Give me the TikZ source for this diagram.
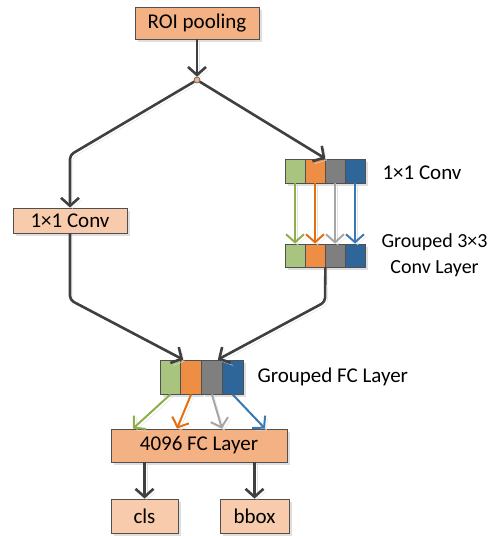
\documentclass[tikz,border=0pt]{standalone}
\usepackage{fontspec}
\setmainfont{Carlito}
\usetikzlibrary{arrows.meta,shadows,calc}
\definecolor{peach}{HTML}{F4B183}
\definecolor{lpeach}{HTML}{F8CBAD}
\definecolor{edge}{HTML}{505050}
\definecolor{lineD}{HTML}{404040}
\definecolor{cG}{HTML}{A9C47F}
\definecolor{cO}{HTML}{EE8E45}
\definecolor{cY}{HTML}{7F7F7F}
\definecolor{cB}{HTML}{2F6699}
\definecolor{aG}{HTML}{8DB04A}
\definecolor{aO}{HTML}{E3700F}
\definecolor{aY}{HTML}{A6A6A6}
\definecolor{aB}{HTML}{3A78B4}
\begin{document}
\begin{tikzpicture}[x=1pt,y=-1pt,
  txt/.style={font=\fontsize{21pt}{26pt}\selectfont, text=black},
  box/.style={txt, draw=edge, line width=0.8pt, inner sep=0pt,
    drop shadow={shadow xshift=3pt, shadow yshift=-3pt, fill=black!25, opacity=0.5}},
  cell/.style={draw=edge, line width=0.8pt, inner sep=0pt, minimum width=20pt,
    drop shadow={shadow xshift=3pt, shadow yshift=-3pt, fill=black!25, opacity=0.5}},
  lsh/.style={preaction={draw=black!12, transform canvas={xshift=2.5pt,yshift=-2.5pt}}},
  conn/.style={lsh, draw=lineD, line width=2.6pt, -{Straight Barb[length=8pt,width=18pt]}},
  carr/.style={lsh, line width=2pt, -{Straight Barb[length=8pt,width=18pt]}}
]
\useasboundingbox (0,0) rectangle (491,536);

% boxes
\node[box, fill=peach, minimum width=124pt, minimum height=32pt] (roi) at (197,23) {ROI pooling};
\node[circle, draw=edge, line width=0.6pt, fill=peach, minimum size=6pt, inner sep=0pt] (dot) at (197,80) {};
\node[box, fill=lpeach, minimum width=114pt, minimum height=25pt] (convL) at (70,220.5) {1×1 Conv};

\node[cell, fill=cG, minimum height=24pt] (a1) at (295,171) {};
\node[cell, fill=cO, minimum height=24pt] (a2) at (315,171) {};
\node[cell, fill=cY, minimum height=24pt] (a3) at (335,171) {};
\node[cell, fill=cB, minimum height=24pt] (a4) at (355,171) {};

\node[cell, fill=cG, minimum height=23pt] (b1) at (295,255.5) {};
\node[cell, fill=cO, minimum height=23pt] (b2) at (315,255.5) {};
\node[cell, fill=cY, minimum height=23pt] (b3) at (335,255.5) {};
\node[cell, fill=cB, minimum height=23pt] (b4) at (355,255.5) {};

\node[cell, fill=cG, minimum width=20.75pt, minimum height=34pt] (f1) at (170.4,377) {};
\node[cell, fill=cO, minimum width=20.75pt, minimum height=34pt] (f2) at (191.1,377) {};
\node[cell, fill=cY, minimum width=20.75pt, minimum height=34pt] (f3) at (211.9,377) {};
\node[cell, fill=cB, minimum width=20.75pt, minimum height=34pt] (f4) at (232.6,377) {};

\node[box, fill=peach, minimum width=176pt, minimum height=33pt] (fc) at (199,445.5) {4096 FC Layer};
\node[box, fill=lpeach, minimum width=67pt, minimum height=34pt] (cls) at (144.5,516) {cls};
\node[box, fill=lpeach, minimum width=69pt, minimum height=34pt] (bbox) at (254.5,516) {bbox};

% labels
\node[txt, anchor=west] (lA) at (379,173) {1×1 Conv};
\node[txt, font=\fontsize{20pt}{26pt}\selectfont, anchor=west, align=center] (lB) at (378,255) {Grouped 3×3\\Conv Layer};
\node[txt, anchor=west] (lC) at (254,377) {Grouped FC Layer};

% connectors
\coordinate (kL1) at (70,155);
\coordinate (kL2) at (70,300);
\coordinate (kR) at (325,302);
\draw[conn] (roi.south) -- (dot.north);
\draw[conn, rounded corners=4pt] (dot) -- (kL1) -- (convL.north);
\draw[conn] (dot) -- (a2.north east);
\draw[conn, rounded corners=4pt] (convL.south) -- (kL2) -- ([xshift=2pt]f1.north east);
\draw[conn, rounded corners=4pt] (b2.south east) -- (kR) -- ([xshift=-4pt]f4.north west);

\draw[carr, draw=aG] (a1.south) -- (b1.north);
\draw[carr, draw=aO] (a2.south) -- (b2.north);
\draw[carr, draw=aY] (a3.south) -- (b3.north);
\draw[carr, draw=aB] (a4.south) -- (b4.north);

\draw[carr, draw=aG] (f1.south) -- ([xshift=-66pt]fc.north);
\draw[carr, draw=aO] (f2.south) -- ([xshift=-22pt]fc.north);
\draw[carr, draw=aY] (f3.south) -- ([xshift=23pt]fc.north);
\draw[carr, draw=aB] (f4.south) -- ([xshift=66pt]fc.north);

\draw[conn] (cls.north |- fc.south) -- (cls.north);
\draw[conn] (bbox.north |- fc.south) -- (bbox.north);
\end{tikzpicture}
\end{document}
